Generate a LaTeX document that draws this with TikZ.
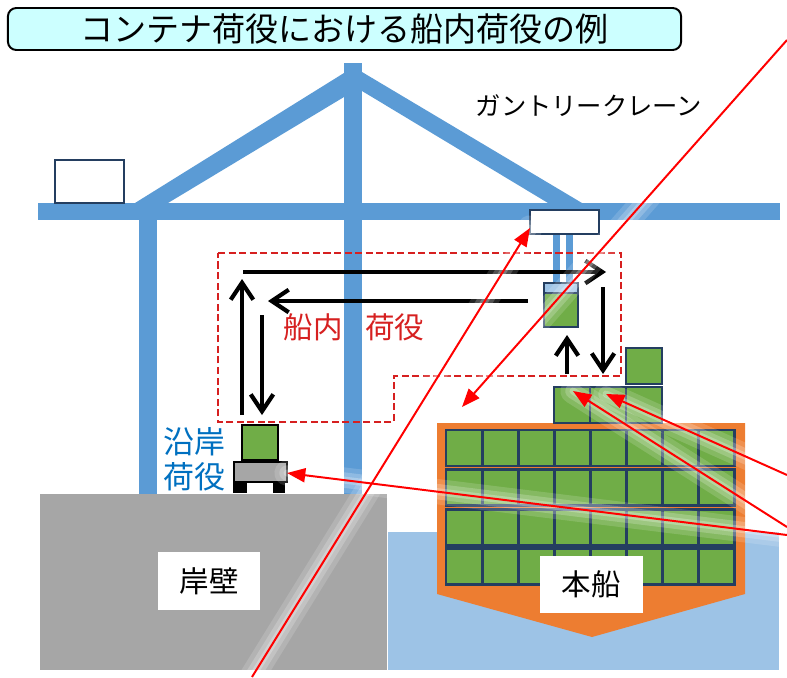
\documentclass[tikz,border=0pt]{standalone}
\usepackage{fontspec}
\setmainfont{Noto Sans CJK JP}
\usetikzlibrary{arrows.meta}

\definecolor{craneblue}{RGB}{91,155,213}
\definecolor{boxnavy}{RGB}{36,62,96}
\definecolor{boxgreen}{RGB}{112,173,71}
\definecolor{hullorange}{RGB}{237,125,49}
\definecolor{seablue}{RGB}{157,195,230}
\definecolor{wallgray}{RGB}{166,166,166}
\definecolor{titlecyan}{RGB}{204,255,255}
\definecolor{labelred}{RGB}{214,32,32}
\definecolor{labelblue}{RGB}{0,112,192}

\tikzset{
  cbox/.style={draw=boxnavy, fill=boxgreen, line width=2pt},
  flow/.style={line width=3pt, -{Straight Barb[length=12pt,width=16pt]}},
  zone/.style={labelred, line width=1.4pt, dash pattern=on 5pt off 2.5pt},
  pointer/.style={red, line width=1.4pt, -{Triangle[length=13pt,width=10pt]}},
  haze/.style={white, opacity=#1, line cap=round},
  plate/.style={fill=white, inner sep=0pt, font=\fontsize{21}{25}\selectfont}
}

\begin{document}
\begin{tikzpicture}[x=0.025cm, y=-0.025cm]
\useasboundingbox (0,0) rectangle (787,677);

% title
\node[draw, line width=1.4pt, rounded corners=6pt, fill=titlecyan,
      minimum width=16.825cm, minimum height=1.05cm, inner sep=0pt,
      font=\fontsize{23.5}{28}\selectfont] (title) at (344.5,29) {コンテナ荷役における船内荷役の例};

% gantry crane
\fill[craneblue] (38,203) rectangle (780,220);
\fill[craneblue] (139,220) rectangle (157,494);
\fill[craneblue] (344,63) rectangle (362,494);
\fill[craneblue] (135,203) -- (344,73) -- (344,97) -- (168,203) -- cycle;
\fill[craneblue] (362,72) -- (582,203) -- (548,203) -- (362,91) -- cycle;
\draw[boxnavy, line width=1.6pt, fill=white] (55,160) rectangle (124,203);
\node[font=\fontsize{18}{22}\selectfont] (crane) at (589,106) {ガントリークレーン};

% trolley, ropes and spreader with box
\fill[craneblue] (553,234) rectangle (560,284);
\fill[craneblue] (566,234) rectangle (573,284);
\draw[boxnavy, line width=1.8pt, fill=white] (530,210) rectangle (599,234);
\fill[boxgreen] (544,283) rectangle (578,327);
\fill[seablue] (544,283) rectangle (578,293);
\draw[boxnavy, line width=1.4pt] (544,293) -- (578,293);
\draw[boxnavy, line width=1.8pt] (544,283) rectangle (578,327);

% on-board handling zone
\draw[zone] (218,253) -- (621,253) -- (621,376) -- (394,376) -- (394,422) -- (218,422) -- cycle;
\node[labelred, font=\fontsize{21}{25}\selectfont] (onboard) at (354,327) {船内\hspace{0.75em}荷役};

\coordinate (up1s) at (242,415);  \coordinate (up1e) at (242,279);
\coordinate (dn1s) at (262,315);  \coordinate (dn1e) at (262,415);
\coordinate (rt1s) at (243,272);  \coordinate (rt1e) at (606,272);
\coordinate (lt1s) at (528,301);  \coordinate (lt1e) at (268,301);
\coordinate (dn2s) at (603,287);  \coordinate (dn2e) at (603,374);
\coordinate (up2s) at (567,374);  \coordinate (up2e) at (567,335);
\draw[flow] (up1s) -- (up1e);
\draw[flow] (dn1s) -- (dn1e);
\draw[flow] (rt1s) -- (rt1e);
\draw[flow] (lt1s) -- (lt1e);
\draw[flow] (dn2s) -- (dn2e);
\draw[flow] (up2s) -- (up2e);

% quay and truck
\fill[wallgray] (40,494) rectangle (387,670);
\node[plate, minimum width=2.55cm, minimum height=1.45cm] (wall) at (209,581) {岸壁};
\fill (233,482) rectangle (247,493);
\fill (273,482) rectangle (285,493);
\draw[line width=1.8pt, fill=wallgray] (234,462) rectangle (287,482);
\draw[line width=1.8pt, fill=boxgreen] (242,425) rectangle (278,460);
\node[labelblue, align=center, font=\fontsize{22}{25}\selectfont] (coastal) at (194,459) {沿岸\\荷役};

% sea and ship
\fill[seablue] (388,532) rectangle (779,670);
\fill[hullorange] (437,423) -- (745,423) -- (745,594) -- (592,637) -- (437,594) -- cycle;
\foreach \r in {0,...,3}
  \foreach \c in {0,...,7}
    \draw[cbox] ({446+36.1*\c},{430+39.6*\r}) rectangle +(36.1,36);
\foreach \c in {0,1,2}
  \draw[cbox] ({554+36*\c},387) rectangle +(36,36);
\draw[cbox] (626,348) rectangle +(36,36);
\node[plate, minimum width=2.575cm, minimum height=1.425cm] (ship) at (591.5,584.5) {本船};

% leader lines
\coordinate (pa) at (787,40);   \coordinate (ta) at (462,407);
\coordinate (pb) at (252,677);  \coordinate (tb) at (530,228);
\coordinate (pc) at (787,535);  \coordinate (tc) at (287,473);
\coordinate (pd) at (787,475);  \coordinate (td) at (606,394);
\coordinate (pe) at (787,527);  \coordinate (te) at (573,391);
\foreach \s/\t in {pa/ta, pb/tb, pc/tc, pd/td, pe/te}{
  \draw[haze=0.15, line width=18pt] (\s) -- (\t);
  \draw[haze=0.2, line width=11pt] (\s) -- (\t);
  \draw[haze=0.25, line width=5pt] (\s) -- (\t);
}
\foreach \s/\t in {pa/ta, pb/tb, pc/tc, pd/td, pe/te}
  \draw[pointer] (\s) -- (\t);
\end{tikzpicture}
\end{document}
